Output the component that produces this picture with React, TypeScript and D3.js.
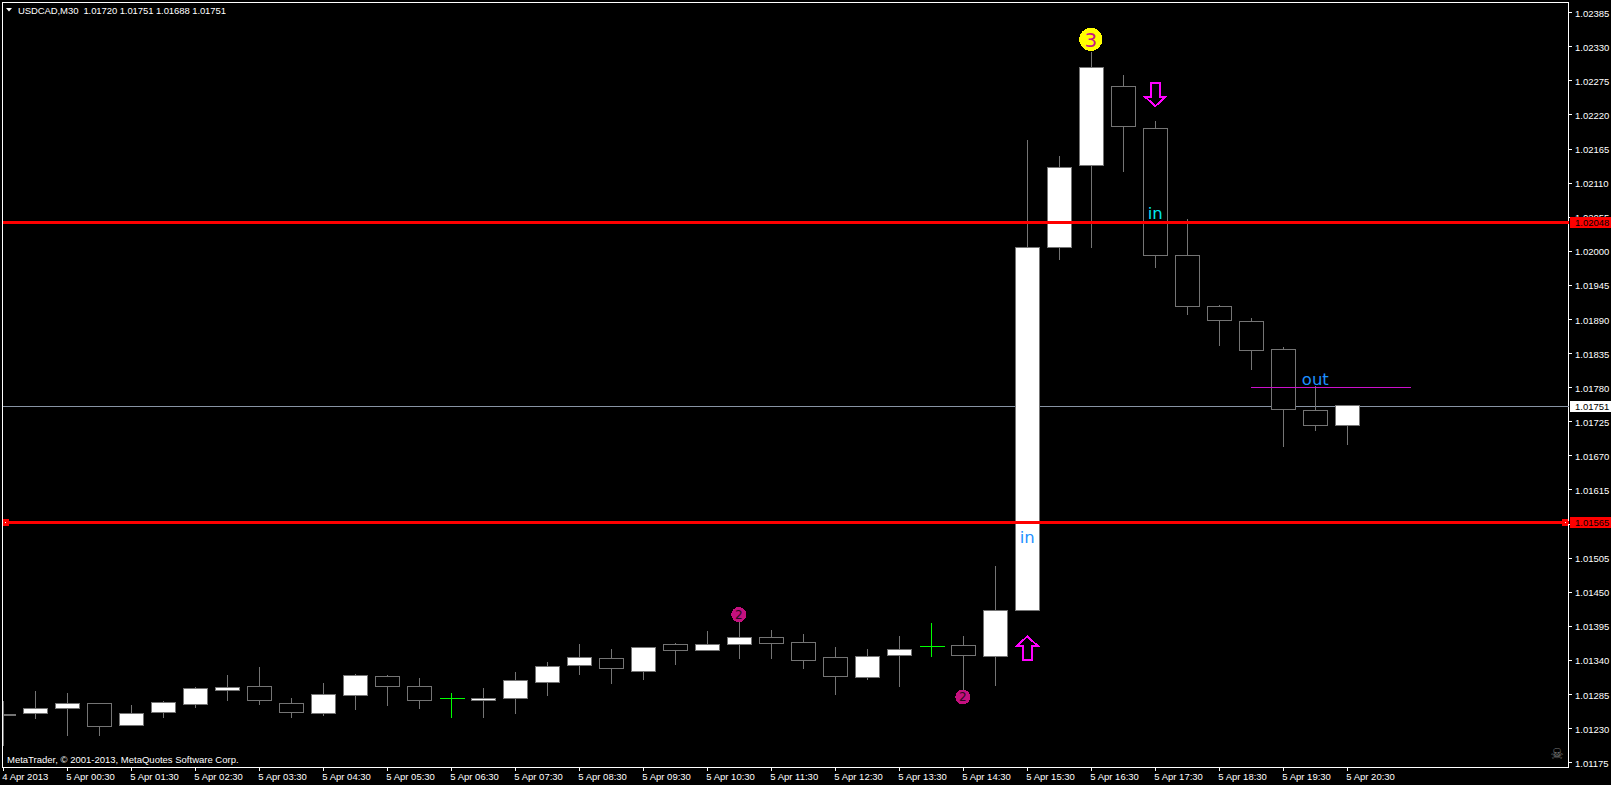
import React from "react";
import * as d3 from "d3";

const opens = [1.01253,1.01254,1.01262,1.01271,1.01236,1.01256,1.0127,1.01291,1.01298,1.01271,1.01254,1.01283,1.01314,1.01298,1.01279,1.01276,1.01279,1.01305,1.01332,1.01344,1.01322,1.01366,1.01356,1.01366,1.01377,1.01369,1.01345,1.01312,1.01348,1.01363,1.01365,1.01346,1.01421,1.02006,1.02139,1.02266,1.02199,1.01994,1.01911,1.01887,1.01842,1.01744,1.0172];
const highs = [1.01275,1.01291,1.01289,1.01271,1.0127,1.01276,1.01299,1.01318,1.01331,1.01281,1.01305,1.01319,1.01318,1.01313,1.01288,1.01296,1.01323,1.01338,1.01367,1.01359,1.01363,1.0137,1.01388,1.01403,1.0139,1.01383,1.01363,1.01359,1.01381,1.01401,1.0138,1.01494,1.0218,1.02155,1.02323,1.02286,1.02212,1.02053,1.01915,1.01894,1.01847,1.01784,1.01751];
const lows = [1.01203,1.01247,1.0122,1.0122,1.01236,1.01248,1.01265,1.01275,1.0127,1.01249,1.01251,1.01261,1.01267,1.01262,1.01249,1.01249,1.01254,1.01283,1.01317,1.01303,1.01309,1.01333,1.01356,1.01344,1.01344,1.01328,1.01286,1.01309,1.01299,1.01347,1.01281,1.013,1.01421,1.01987,1.02006,1.02129,1.01974,1.01899,1.01848,1.01809,1.01686,1.01712,1.01688];
const closes = [1.01252,1.01263,1.01271,1.01233,1.01255,1.01272,1.01295,1.01297,1.01275,1.01256,1.01285,1.01316,1.01299,1.01276,1.01279,1.01279,1.01308,1.01331,1.01345,1.01327,1.01361,1.01356,1.01366,1.01377,1.01367,1.01341,1.01314,1.01347,1.01358,1.01363,1.01348,1.01421,1.02007,1.02136,1.02297,1.02201,1.01993,1.01911,1.01888,1.0184,1.01745,1.01719,1.01751];

const priceTicks = ["1.02385","1.02330","1.02275","1.02220","1.02165","1.02110","1.02055","1.02000","1.01945","1.01890","1.01835","1.01780","1.01725","1.01670","1.01615","1.01560","1.01505","1.01450","1.01395","1.01340","1.01285","1.01230","1.01175"];
const timeTickBars = [0,2,4,6,8,10,12,14,16,18,20,22,24,26,28,30,32,34,36,38,40,42];
const timeTickLabels = ["4 Apr 2013","5 Apr 00:30","5 Apr 01:30","5 Apr 02:30","5 Apr 03:30","5 Apr 04:30","5 Apr 05:30","5 Apr 06:30","5 Apr 07:30","5 Apr 08:30","5 Apr 09:30","5 Apr 10:30","5 Apr 11:30","5 Apr 12:30","5 Apr 13:30","5 Apr 14:30","5 Apr 15:30","5 Apr 16:30","5 Apr 17:30","5 Apr 18:30","5 Apr 19:30","5 Apr 20:30"];

const upperLevel = { price: 1.02048, label: "1.02048" };
const lowerLevel = { price: 1.01563, label: "1.01565" };
const bidLevel = { price: 1.01751, label: "1.01751" };
const exitLine = { fromBar: 39, toBar: 44, price: 1.0178 };
const textNotes = [
  { bar: 36, price: 1.02052, text: "in", color: "#00e8f0" },
  { bar: 32, price: 1.0153, text: "in", color: "#1e90ff" },
  { bar: 41, price: 1.01784, text: "out", color: "#1e90ff" },
];
const numberMarks = [
  { bar: 23, price: 1.01414, n: "2", r: 7.5, fill: "#c4107e", ink: "#2a0a20", size: 12 },
  { bar: 30, price: 1.01281, n: "2", r: 7.5, fill: "#c4107e", ink: "#2a0a20", size: 12 },
  { bar: 34, price: 1.02342, n: "3", r: 11.5, fill: "#ffff00", ink: "#c71585", size: 20 },
];
const upArrow = { bar: 32, price: 1.01381 };
const downArrow = { bar: 36, price: 1.02232 };
const header = "USDCAD,M30  1.01720 1.01751 1.01688 1.01751";
const copyright = "MetaTrader, © 2001-2013, MetaQuotes Software Corp.";

const W = 1611, H = 785;
const left = 2.5, top = 2.5, right = 1568.5, bottom = 767.5;
const x = d3.scaleLinear().domain([0, 42]).range([3.3, 1347.3]);
const y = d3.scaleLinear().domain([1.02385, 1.01175]).range([12.7, 762.7]);
const pxX = (v: number) => Math.floor(v) + 0.5;
const pxY = (v: number) => Math.floor(v + 0.2) + 0.5;
const FONT = "'Liberation Sans', sans-serif";
const GREY = "#747474";

const upPath = "M0,1.4 L-10,10.5 L-4.5,10.5 L-4.5,24.5 L4.5,24.5 L4.5,10.5 L10,10.5 Z";
const downPath = "M0,-1.4 L-10,-10.5 L-4.5,-10.5 L-4.5,-24.5 L4.5,-24.5 L4.5,-10.5 L10,-10.5 Z";

function Candle({ i }: { i: number }) {
  const c = pxX(x(i));
  const o = opens[i], cl = closes[i];
  const doji = o === cl;
  const t = pxY(y(Math.max(o, cl)));
  const b = pxY(y(Math.min(o, cl)));
  const col = doji ? "#00ff00" : GREY;
  return (
    <g shapeRendering="crispEdges">
      <line x1={c} x2={c} y1={pxY(y(highs[i]))} y2={pxY(y(lows[i]))} stroke={col} />
      {doji ? (
        <line x1={c - 12} x2={c + 13} y1={t} y2={t} stroke={col} />
      ) : (
        <rect x={c - 12} y={t} width={24} height={b - t} fill={cl > o ? "#fff" : "#000"} stroke={col} />
      )}
    </g>
  );
}

function PriceBox({ level, fill }: { level: { price: number; label: string }; fill: string }) {
  const cy = Math.round(y(level.price));
  return (
    <g>
      <rect x={1570} y={cy - 5.5} width={41} height={11} fill={fill} shapeRendering="crispEdges" />
      <text x={1575} y={cy + 3.5} fontFamily={FONT} fontSize={9.5} fill="#000">{level.label}</text>
    </g>
  );
}

export default function App() {
  const levelY = (p: number) => Math.round(y(p)) + 0.5;
  return (
    <svg width={W} height={H} viewBox={`0 0 ${W} ${H}`} style={{ position: "absolute", left: 0, top: 0, display: "block", background: "#000" }}>
      <defs>
        <clipPath id="plot"><rect x={3} y={3} width={right - 3} height={bottom - 3} /></clipPath>
      </defs>
      <rect width={W} height={H} fill="#000" />

      {/* frame */}
      <path d={`M${left},${bottom} L${left},${top} L${right},${top} L${right},${bottom} L${left},${bottom}`} fill="none" stroke="#fff" shapeRendering="crispEdges" />

      {/* price axis */}
      {priceTicks.map((t) => {
        const ty = Math.round(y(+t));
        return (
          <g key={t}>
            <line x1={1569} x2={1572} y1={Math.floor(y(+t)) + 0.5} y2={Math.floor(y(+t)) + 0.5} stroke="#fff" shapeRendering="crispEdges" />
            <text x={1575} y={ty + 4} fontFamily={FONT} fontSize={9.5} fill="#fff">{t}</text>
          </g>
        );
      })}

      {/* time axis */}
      {timeTickBars.map((b, k) => (
        <g key={b}>
          <line x1={pxX(x(b))} x2={pxX(x(b))} y1={768} y2={771} stroke="#fff" shapeRendering="crispEdges" />
          <text x={x(b) - 1} y={780} fontFamily={FONT} fontSize={9.5} fill="#fff">{timeTickLabels[k]}</text>
        </g>
      ))}

      {/* bid line behind candles */}
      <line x1={3} x2={right} y1={levelY(bidLevel.price)} y2={levelY(bidLevel.price)} stroke="#8793a3" shapeRendering="crispEdges" />

      <g clipPath="url(#plot)">
        {opens.map((_, i) => <Candle key={i} i={i} />)}
      </g>

      {/* horizontal levels */}
      {[upperLevel, lowerLevel].map((l) => (
        <line key={l.label} x1={3} x2={right} y1={levelY(l.price)} y2={levelY(l.price)} stroke="#ff0000" strokeWidth={3} shapeRendering="crispEdges" />
      ))}
      {/* anchors of the selected level */}
      <g shapeRendering="crispEdges">
        <rect x={3} y={Math.round(y(lowerLevel.price)) - 3} width={6} height={7} fill="#ff0000" />
        <rect x={5} y={Math.round(y(lowerLevel.price))} width={1} height={1} fill="#fff" />
        <rect x={1562} y={Math.round(y(lowerLevel.price)) - 3} width={6} height={7} fill="#ff0000" />
        <rect x={1565} y={Math.round(y(lowerLevel.price))} width={1} height={1} fill="#fff" />
      </g>

      {/* exit line */}
      <line x1={x(exitLine.fromBar)} x2={x(exitLine.toBar)} y1={pxY(y(exitLine.price))} y2={pxY(y(exitLine.price))} stroke="#cc11cc" shapeRendering="crispEdges" />

      {/* notes */}
      {textNotes.map((n, k) => (
        <text key={k} x={x(n.bar)} y={y(n.price)} textAnchor="middle" fontFamily="'DejaVu Sans', sans-serif" fontSize={16.5} fill={n.color}>{n.text}</text>
      ))}

      {/* numbered marks */}
      {numberMarks.map((m, k) => (
        <g key={k} transform={`translate(${x(m.bar) - 0.5},${y(m.price)})`}>
          <circle r={m.r} fill={m.fill} shapeRendering="crispEdges" />
          <text y={m.size * 0.36} textAnchor="middle" fontFamily="'DejaVu Sans', sans-serif" fontSize={m.size} fill={m.ink}>{m.n}</text>
        </g>
      ))}

      {/* arrows */}
      <path d={upPath} transform={`translate(${x(upArrow.bar)},${y(upArrow.price)})`} fill="#000" stroke="#ff00ff" strokeWidth={2} shapeRendering="crispEdges" />
      <path d={downPath} transform={`translate(${x(downArrow.bar)},${y(downArrow.price)})`} fill="#000" stroke="#ff00ff" strokeWidth={2} shapeRendering="crispEdges" />

      {/* price boxes */}
      <PriceBox level={upperLevel} fill="#ff0000" />
      <PriceBox level={lowerLevel} fill="#ff0000" />
      <PriceBox level={bidLevel} fill="#ffffff" />

      {/* header + footer */}
      <path d="M6,8 L12,8 L9,11.5 Z" fill="#fff" />
      <text x={18} y={14} fontFamily={FONT} fontSize={9.5} fill="#fff" xmlSpace="preserve" textLength={208} lengthAdjust="spacing">{header}</text>
      <text x={7} y={763} fontFamily={FONT} fontSize={9.5} fill="#fff">{copyright}</text>
      <text x={1557} y={759} textAnchor="middle" fontFamily="'DejaVu Sans', sans-serif" fontSize={15} fill="#777">☠</text>
    </svg>
  );
}
